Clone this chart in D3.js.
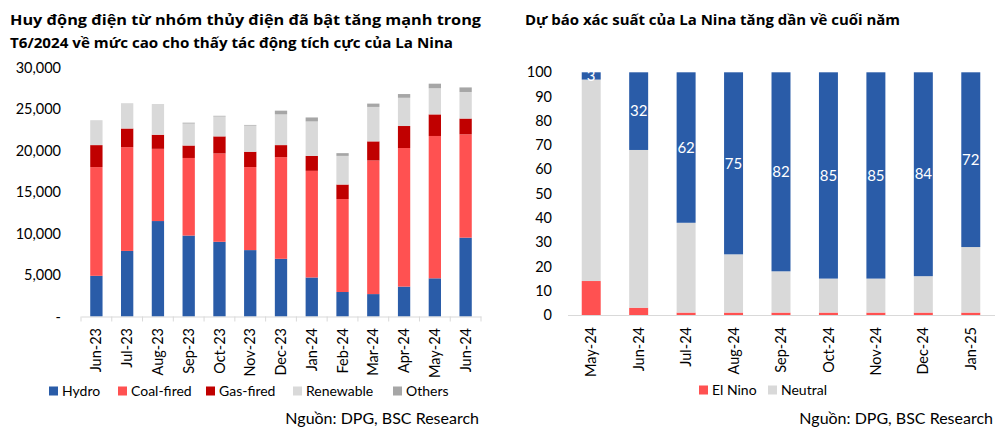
<!DOCTYPE html>
<html><head><meta charset="utf-8">
<script src="https://cdn.jsdelivr.net/npm/d3@7"></script>
<style>
body{margin:0;background:#fff;}
svg{display:block;font-family:Lato, "Open Sans", sans-serif;}
.ttl{font-family:"Open Sans", Lato, sans-serif;font-weight:700;}
</style></head>
<body><svg id="c" width="1000" height="432"></svg>
<script>
// ---- Left chart data ----
const months = ["Jun-23","Jul-23","Aug-23","Sep-23","Oct-23","Nov-23","Dec-23","Jan-24","Feb-24","Mar-24","Apr-24","May-24","Jun-24"];
const hydro     = [4900, 7900, 11500, 9750, 9000, 8000, 6950, 4700, 2950, 2700, 3600, 4600, 9500];
const coalFired = [13100,12500, 8700, 9350,10650,10000,12250,12850,11200,16100,16700,17150,12450];
const gasFired  = [2650, 2250, 1700, 1500, 2050, 1850, 1450, 1800, 1750, 2300, 2650, 2600, 1900];
const renewable = [3000, 3050, 3700, 2650, 2400, 3150, 3700, 4150, 3450, 4150, 3400, 3150, 3200];
const others    = [0, 0, 0, 100, 80, 80, 450, 480, 330, 400, 450, 550, 550];
const leftTicks = [0, 5000, 10000, 15000, 20000, 25000, 30000];
const leftSeries = ["Hydro","Coal-fired","Gas-fired","Renewable","Others"];

// ---- Right chart data ----
const forecastMonths = ["May-24","Jun-24","Jul-24","Aug-24","Sep-24","Oct-24","Nov-24","Dec-24","Jan-25"];
const elNino  = [14, 3, 1, 1, 1, 1, 1, 1, 1];
const neutral = [83, 65, 37, 24, 17, 14, 14, 15, 27];
const laNina  = [3, 32, 62, 75, 82, 85, 85, 84, 72];
const rightTicks = [0,10,20,30,40,50,60,70,80,90,100];

const colors = {"Hydro":"#2A5CA8","Coal-fired":"#FF5151","Gas-fired":"#C00000","Renewable":"#D9D9D9","Others":"#A6A6A6",
  "El Nino":"#FF5151","Neutral":"#D9D9D9","La Nina":"#2A5CA8"};

const svg = d3.select("#c");
const fmt = d3.format(",");
const TICK = 14.5, XLAB = 14.5, LEG = 14, SRC = 16;

// ---------- LEFT ----------
const L = {x0:81, x1:481, y0:316.5, y1:67.5};
const xL = d3.scaleBand().domain(months).range([L.x0, L.x1]).paddingInner(0.6).paddingOuter(0.3);
const yL = d3.scaleLinear().domain([0,30000]).range([L.y0, L.y1]);
const leftRows = months.map((m,i)=>({m, "Hydro":hydro[i], "Coal-fired":coalFired[i], "Gas-fired":gasFired[i], "Renewable":renewable[i], "Others":others[i]}));
const stackL = d3.stack().keys(leftSeries)(leftRows);

// title
svg.append("text").attr("class","ttl").attr("x",10).attr("y",25).attr("font-size",14).attr("fill","#000")
  .text("Huy động điện từ nhóm thủy điện đã bật tăng mạnh trong").attr("textLength",471).attr("lengthAdjust","spacingAndGlyphs");
svg.append("text").attr("class","ttl").attr("x",10).attr("y",48).attr("font-size",14).attr("fill","#000")
  .text("T6/2024 về mức cao cho thấy tác động tích cực của La Nina").attr("textLength",443).attr("lengthAdjust","spacingAndGlyphs");

// y axis labels
svg.append("g").selectAll("text").data(leftTicks).join("text")
  .attr("x",61).attr("y",d=>yL(d)).attr("dy","0.35em").attr("text-anchor","end")
  .attr("font-size",TICK).attr("fill","#000")
  .text(d=>d===0?"-":fmt(d));

// bars
svg.append("g").selectAll("g").data(stackL).join("g").attr("fill",d=>colors[d.key])
  .selectAll("rect").data(d=>d).join("rect")
  .attr("x",d=>xL(d.data.m)).attr("width",xL.bandwidth())
  .attr("y",d=>yL(d[1])).attr("height",d=>Math.max(0,yL(d[0])-yL(d[1])));

// x axis
const axL = svg.append("g").attr("transform",`translate(0,${L.y0})`)
  .call(d3.axisBottom(xL).tickSize(0).tickFormat(""));
axL.select(".domain").attr("stroke","#D9D9D9");
const bounds = months.map(m=>xL(m)-xL.step()*xL.paddingInner()/2).concat([L.x1]);
svg.append("g").selectAll("line").data(bounds).join("line")
  .attr("x1",d=>d).attr("x2",d=>d).attr("y1",L.y0).attr("y2",L.y0+5).attr("stroke","#D9D9D9");
svg.append("g").selectAll("text").data(months).join("text")
  .attr("transform",d=>`translate(${xL(d)+xL.bandwidth()/2},328) rotate(-90)`)
  .attr("dy","0.35em").attr("text-anchor","end").attr("font-size",XLAB).attr("fill","#000").text(d=>d);

// legend
const legL = [{k:"Hydro",x:49},{k:"Coal-fired",x:118},{k:"Gas-fired",x:206},{k:"Renewable",x:293},{k:"Others",x:393}];
const lg = svg.append("g").selectAll("g").data(legL).join("g").attr("transform",d=>`translate(${d.x},391)`);
lg.append("rect").attr("x",0).attr("y",-4.5).attr("width",9).attr("height",9).attr("fill",d=>colors[d.k]);
lg.append("text").attr("x",13).attr("dy","0.35em").attr("font-size",LEG).attr("fill","#000").text(d=>d.k);

svg.append("text").attr("x",479).attr("y",418).attr("dy","0.35em").attr("text-anchor","end").attr("font-size",SRC).attr("fill","#000")
  .text("Nguồn: DPG, BSC Research");

// ---------- RIGHT ----------
const R = {x0:567.5, x1:994.5, y0:315, y1:72.3};
const xR = d3.scaleBand().domain(forecastMonths).range([R.x0, R.x1]).paddingInner(0.6).paddingOuter(0.3);
const yR = d3.scaleLinear().domain([0,100]).range([R.y0, R.y1]);
const rightRows = forecastMonths.map((m,i)=>({m, "El Nino":elNino[i], "Neutral":neutral[i], "La Nina":laNina[i]}));
const stackR = d3.stack().keys(["El Nino","Neutral","La Nina"])(rightRows);

svg.append("text").attr("class","ttl").attr("x",525).attr("y",25).attr("font-size",14).attr("fill","#000")
  .text("Dự báo xác suất của La Nina tăng dần về cuối năm").attr("textLength",375).attr("lengthAdjust","spacingAndGlyphs");

svg.append("g").selectAll("text").data(rightTicks).join("text")
  .attr("x",552).attr("y",d=>yR(d)).attr("dy","0.35em").attr("text-anchor","end")
  .attr("font-size",TICK).attr("fill","#000").text(d=>d);

svg.append("g").selectAll("g").data(stackR).join("g").attr("fill",d=>colors[d.key])
  .selectAll("rect").data(d=>d).join("rect")
  .attr("x",d=>xR(d.data.m)).attr("width",xR.bandwidth())
  .attr("y",d=>yR(d[1])).attr("height",d=>Math.max(0,yR(d[0])-yR(d[1])));

// labels on La Nina
const ln = stackR[2];
svg.append("g").selectAll("text").data(ln).join("text")
  .attr("x",d=>xR(d.data.m)+xR.bandwidth()/2).attr("y",d=>yR((d[0]+d[1])/2)).attr("dy","0.35em")
  .attr("text-anchor","middle").attr("font-size",15).attr("fill","#fff").text(d=>d.data["La Nina"]);

const axR = svg.append("g").attr("transform",`translate(0,${R.y0})`)
  .call(d3.axisBottom(xR).tickSize(0).tickFormat(""));
axR.select(".domain").attr("stroke","#D9D9D9");

svg.append("g").selectAll("text").data(forecastMonths).join("text")
  .attr("transform",d=>`translate(${xR(d)+xR.bandwidth()/2},327) rotate(-90)`)
  .attr("dy","0.35em").attr("text-anchor","end").attr("font-size",XLAB).attr("fill","#000").text(d=>d);

const legR = [{k:"El Nino",x:699},{k:"Neutral",x:768}];
const lr = svg.append("g").selectAll("g").data(legR).join("g").attr("transform",d=>`translate(${d.x},390)`);
lr.append("rect").attr("x",0).attr("y",-4.5).attr("width",9).attr("height",9).attr("fill",d=>colors[d.k]);
lr.append("text").attr("x",13).attr("dy","0.35em").attr("font-size",LEG).attr("fill","#000").text(d=>d.k);

svg.append("text").attr("x",993).attr("y",418).attr("dy","0.35em").attr("text-anchor","end").attr("font-size",SRC).attr("fill","#000")
  .text("Nguồn: DPG, BSC Research");
</script></body></html>
